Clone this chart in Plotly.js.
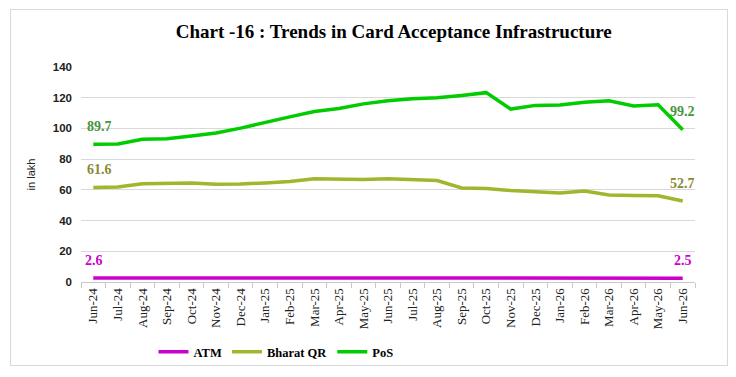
<!DOCTYPE html>
<html>
<head>
<meta charset="utf-8">
<script src="https://cdn.plot.ly/plotly-3.0.1.min.js"></script>
<style>
  html, body { margin: 0; padding: 0; background: #fff; }
  #chart { width: 736px; height: 377px; position: relative; }
  #frame { position: absolute; left: 10px; top: 9px; width: 716px; height: 355px; border: 1px solid #d9d9d9; pointer-events: none; z-index: 5; }
</style>
</head>
<body>
<div id="chart"><div id="frame"></div></div>
<script>
const months = ["Jun-24","Jul-24","Aug-24","Sep-24","Oct-24","Nov-24","Dec-24","Jan-25","Feb-25","Mar-25","Apr-25","May-25","Jun-25","Jul-25","Aug-25","Sep-25","Oct-25","Nov-25","Dec-25","Jan-26","Feb-26","Mar-26","Apr-26","May-26","Jun-26"];
const atm = [2.6,2.6,2.6,2.6,2.6,2.6,2.6,2.6,2.6,2.6,2.6,2.6,2.6,2.6,2.6,2.5,2.5,2.5,2.5,2.5,2.5,2.5,2.5,2.5,2.5];
const bharatQR = [61.6,61.8,64.0,64.3,64.5,63.7,63.8,64.5,65.5,67.3,67.0,66.7,67.2,66.7,66.1,61.2,60.9,59.6,59.0,58.0,59.2,56.6,56.4,56.2,52.7];
const pos = [89.7,89.8,93.0,93.3,95.0,97.0,100.2,104.0,107.5,111.0,113.0,116.0,118.0,119.3,120.0,121.5,123.3,112.6,115.0,115.3,117.0,118.0,114.6,115.4,99.2];
const yTicks = [0,20,40,60,80,100,120,140];

const serif = "Liberation Serif, DejaVu Serif, serif";
const sans = "Liberation Sans, Arial, sans-serif";

const series = [
  { name: "ATM", values: atm, color: "#cc00cc", labelColor: "#cc00cc", firstShift: 1 },
  { name: "Bharat QR", values: bharatQR, color: "#a2b52c", labelColor: "#8a8a34", firstShift: 6 },
  { name: "PoS", values: pos, color: "#00cc00", labelColor: "#45963c", firstShift: 6 }
];

const traces = series.map(s => ({
  x: months, y: s.values, name: s.name, type: "scatter", mode: "lines",
  line: { color: s.color, width: 3.5 }
}));

const annotations = [];
series.forEach(s => {
  const last = s.values.length - 1;
  [0, last].forEach(i => {
    annotations.push({
      x: months[i], y: s.values[i], xref: "x", yref: "y",
      text: s.values[i].toFixed(1), showarrow: false,
      xshift: (i === 0 ? s.firstShift : 0), yshift: 18,
      font: { family: serif, size: 14, color: s.labelColor, weight: 700 }
    });
  });
});

const layout = {
  width: 736, height: 377,
  margin: { l: 81, r: 41, t: 67, b: 95 },
  paper_bgcolor: "#ffffff", plot_bgcolor: "#ffffff",
  showlegend: true,
  annotations: annotations,
  title: {
    text: "Chart -16 : Trends in Card Acceptance Infrastructure",
    font: { family: serif, size: 19, color: "#000000", weight: 700 },
    x: 0.535, xanchor: "center", y: 0.918, yanchor: "middle"
  },
  xaxis: {
    type: "category",
    tickangle: -90,
    tickfont: { family: serif, size: 13, color: "#222222" },
    showgrid: false,
    showline: true, linecolor: "#c8c8c8", linewidth: 1,
    ticks: "outside", tickson: "boundaries", ticklen: 5, tickcolor: "#c8c8c8",
    range: [-0.5, 24.5],
    automargin: false,
    fixedrange: true
  },
  yaxis: {
    range: [0, 140],
    tickvals: yTicks,
    ticktext: yTicks.map(String),
    tickfont: { family: sans, size: 11.5, color: "#222222", weight: 700 },
    showgrid: true, gridcolor: "#d9d9d9", gridwidth: 1,
    zeroline: true, zerolinecolor: "#d9d9d9",
    showline: false,
    ticks: "", ticklabelstandoff: 8,
    automargin: false,
    title: { text: "in lakh", font: { family: sans, size: 11, color: "#222222" }, standoff: 14 },
    fixedrange: true
  },
  legend: {
    orientation: "h",
    xref: "container", yref: "container",
    x: 0.375, xanchor: "center",
    y: 0.066, yanchor: "middle",
    font: { family: serif, size: 12.5, color: "#000000", weight: 700 },
    itemwidth: 30,
    tracegroupgap: 0
  }
};

Plotly.newPlot("chart", traces, layout, { displayModeBar: false, staticPlot: true });
</script>
</body>
</html>
